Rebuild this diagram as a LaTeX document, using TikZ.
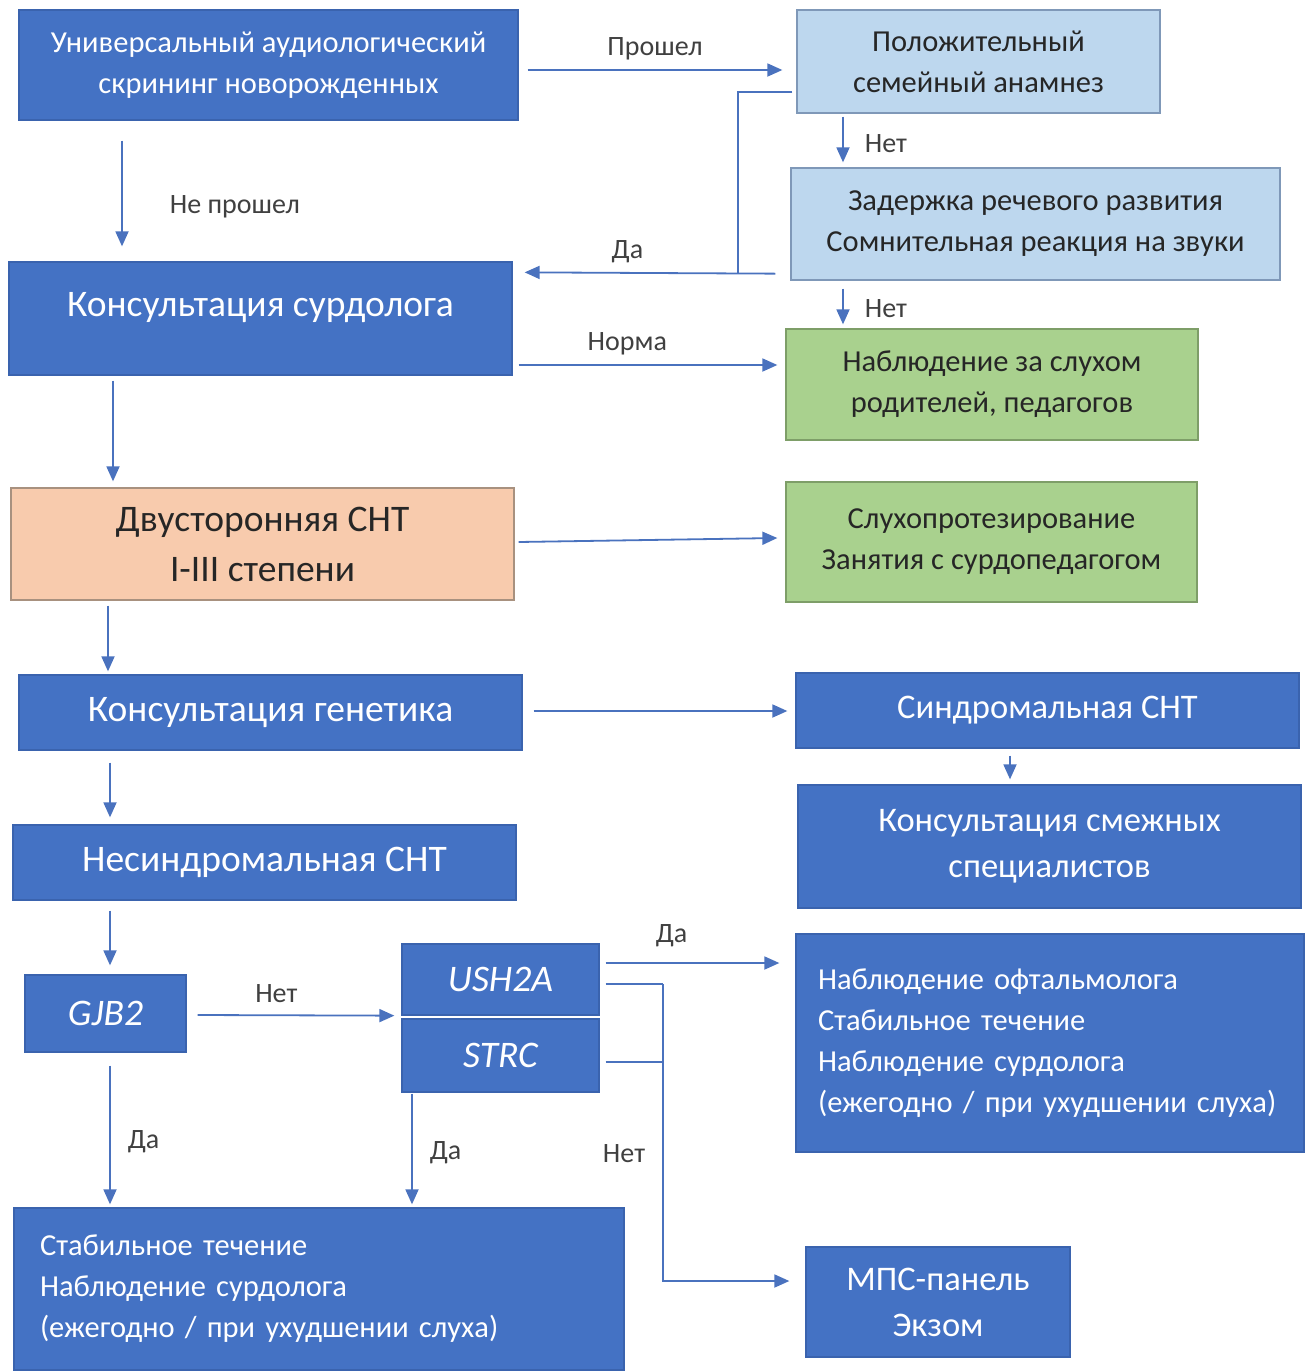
\documentclass[tikz,border=0pt]{standalone}
\usepackage{fontspec}
\setmainfont{Carlito}
\usetikzlibrary{arrows.meta}

\definecolor{darkblue}{HTML}{4472C4}
\definecolor{darkedge}{HTML}{3A63AE}
\definecolor{lightblue}{HTML}{BDD7EE}
\definecolor{lightedge}{HTML}{7F98B8}
\definecolor{greenfill}{HTML}{A9D18E}
\definecolor{greenedge}{HTML}{7E9E68}
\definecolor{peachfill}{HTML}{F8CBAD}
\definecolor{peachedge}{HTML}{A8917F}
\definecolor{linecol}{HTML}{4A72BE}
\definecolor{labeltext}{HTML}{404040}

\begin{document}
\begin{tikzpicture}[x=1pt, y=-1pt,
    box/.style={rectangle, draw, line width=1.3pt, inner sep=0pt, align=center},
    darkbox/.style={box, fill=darkblue, draw=darkedge, text=white},
    lightbox/.style={box, fill=lightblue, draw=lightedge, text=black!85},
    greenbox/.style={box, fill=greenfill, draw=greenedge, text=black!85},
    peachbox/.style={box, fill=peachfill, draw=peachedge, text=black!85},
    small/.style={font=\fontsize{30.5}{41}\selectfont},
    large/.style={font=\fontsize{37.5}{50}\selectfont},
    largeright/.style={font=\fontsize{34.5}{46}\selectfont},
    link/.style={draw=linecol, line width=1.8pt},
    arr/.style={link, -{Triangle[length=15pt,width=13pt]}},
    lbl/.style={font=\fontsize{28}{32}\selectfont, text=labeltext, inner sep=1pt}]

    \useasboundingbox (0,0) rectangle (1310,1371);

    % LEFT COLUMN
    \node (univ) [darkbox, small, minimum width=499pt, minimum height=110pt] at (268.5,65)
        {Универсальный аудиологический\\скрининг новорожденных};
    \node (surdo) [darkbox, large, text height=24pt, text depth=28pt,
        minimum width=503pt, minimum height=113pt] at (260.5,318.5) {Консультация сурдолога};
    \node (bilat) [peachbox, large, minimum width=503pt, minimum height=112pt] at (262.5,544)
        {Двусторонняя СНТ\\I-III степени};
    \node (genet) [darkbox, large, minimum width=503pt, minimum height=75pt] at (270.5,712.5)
        {Консультация генетика};
    \node (nonsyn) [darkbox, large, minimum width=503pt, minimum height=75pt] at (264.5,862.5)
        {Несиндромальная СНТ};
    \node (gjb) [darkbox, large, minimum width=161pt, minimum height=77pt] at (105.5,1013.5)
        {\itshape GJB2};
    \node (ush) [darkbox, large, minimum width=197pt, minimum height=71pt] at (500.5,979.5)
        {\itshape USH2A};
    \node (strc) [darkbox, large, minimum width=197pt, minimum height=73pt] at (500.5,1055.5)
        {\itshape STRC};
    \node (stable) [darkbox, small, minimum width=610pt, minimum height=162pt,
        text width=558pt, align=left] at (319,1289)
        {Стабильное течение\\Наблюдение сурдолога\\(ежегодно / при ухудшении слуха)};

    % RIGHT COLUMN
    \node (famhist) [lightbox, small, minimum width=363pt, minimum height=103pt] at (978.5,61.5)
        {Положительный\\семейный анамнез};
    \node (delay) [lightbox, small, minimum width=489pt, minimum height=112pt] at (1035.5,224)
        {Задержка речевого развития\\Сомнительная реакция на звуки};
    \node (watch) [greenbox, small, minimum width=412pt, minimum height=111pt] at (992,384.5)
        {Наблюдение за слухом\\родителей, педагогов};
    \node (aid) [greenbox, small, minimum width=411pt, minimum height=120pt] at (991.5,542)
        {Слухопротезирование\\Занятия с сурдопедагогом};
    \node (syndr) [darkbox, largeright, minimum width=503pt, minimum height=75pt] at (1047.5,710.5)
        {Синдромальная СНТ};
    \node (allied) [darkbox, largeright, minimum width=503pt, minimum height=123pt] at (1049.5,846.5)
        {Консультация смежных\\специалистов};
    \node (ophth) [darkbox, small, minimum width=508pt, minimum height=218pt,
        text width=464pt, align=left] at (1050,1043)
        {Наблюдение офтальмолога\\Стабильное течение\\Наблюдение сурдолога\\(ежегодно / при ухудшении слуха)};
    \node (ngs) [darkbox, largeright, minimum width=264pt, minimum height=110pt] at (938,1302)
        {МПС-панель\\Экзом};

    % CONNECTORS
    \draw[arr] ([shift={(9,5)}]univ.east) -- node[lbl, above=8pt] {Прошел}
        ([shift={(-14,8.5)}]famhist.west);
    \draw[arr] ([shift={(-146.5,20)}]univ.south) -- node[lbl, right=46pt, pos=0.63] {Не прошел}
        ([shift={(-138.5,-15)}]surdo.north);
    \draw[arr] ([shift={(-135.5,3)}]famhist.south) -- node[lbl, right=20pt, pos=0.6] {Нет}
        ([shift={(-192.5,-5)}]delay.north);
    \coordinate (yesjoin) at (738,273);
    \draw[link] ([shift={(-4,30.5)}]famhist.west) -| (yesjoin);
    \draw[arr] ([shift={(-15,-7)}]delay.south west) -- node[lbl, above=8pt, pos=0.59] {Да}
        ([shift={(12,11)}]surdo.north east);
    \draw[arr] ([shift={(-192.5,8)}]delay.south) -- node[lbl, right=20pt, pos=0.55] {Нет}
        ([shift={(-149,-4)}]watch.north);
    \draw[arr] ([shift={(6,46.5)}]surdo.east) -- node[lbl, above=8pt, pos=0.42] {Норма}
        ([shift={(-8,-19.5)}]watch.west);
    \draw[arr] ([shift={(-147.5,5)}]surdo.south) -- ([shift={(-149.5,-6)}]bilat.north);
    \draw[arr] ([shift={(4,-2)}]bilat.east) -- ([shift={(-8,-4)}]aid.west);
    \draw[arr] ([shift={(-154.5,5)}]bilat.south) -- ([shift={(-162.5,-3)}]genet.north);
    \draw[arr] ([shift={(11,-1.5)}]genet.east) -- ([shift={(-8,0.5)}]syndr.west);
    \draw[arr] ([shift={(-37.5,7)}]syndr.south) -- ([shift={(-39.5,-5)}]allied.north);
    \draw[arr] ([shift={(-160.5,12)}]genet.south) -- ([shift={(-154.5,-7)}]nonsyn.north);
    \draw[arr] ([shift={(-154.5,10)}]nonsyn.south) -- ([shift={(4.5,-9)}]gjb.north);
    \draw[arr] ([shift={(11,1.5)}]gjb.east) -- node[lbl, above=11pt, pos=0.4] {Нет}
        ([shift={(-7,0)}]ush.south west);
    \draw[arr] ([shift={(4.5,13)}]gjb.south) -- node[lbl, right=16pt, pos=0.55] {Да}
        ([shift={(-209,-3)}]stable.north);
    \draw[arr] ([shift={(-88.5,1)}]strc.south) -- node[lbl, right=16pt, pos=0.53] {Да}
        ([shift={(93,-3)}]stable.north);
    \draw[arr] ([shift={(6,-16.5)}]ush.east) -- node[lbl, above=14pt, pos=0.38] {Да}
        ([shift={(-16,-80)}]ophth.west);
    \coordinate (nojoin) at (663,984);
    \draw[link] ([shift={(6,4.5)}]ush.east) -- (nojoin);
    \draw[link] ([shift={(6,6.5)}]strc.east) -- +(58,0);
    \draw[arr] (nojoin) |- node[lbl, left=16pt, pos=0.285] {Нет}
        ([shift={(-16,-21)}]ngs.west);
\end{tikzpicture}
\end{document}
